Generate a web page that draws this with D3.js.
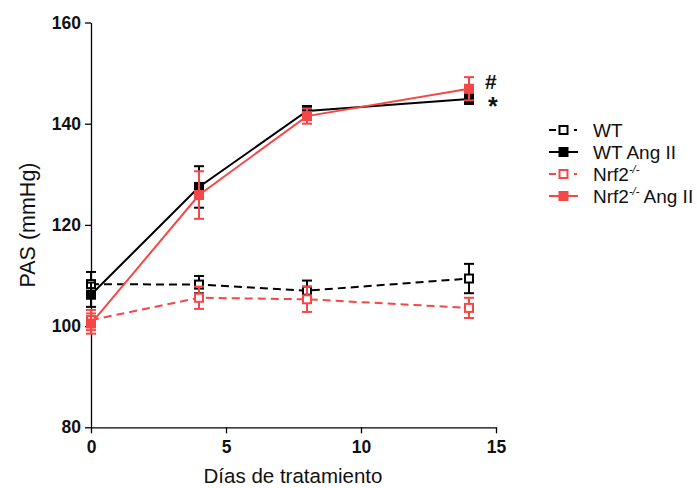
<!DOCTYPE html>
<html>
<head>
<meta charset="utf-8">
<script src="https://cdn.jsdelivr.net/npm/d3@7"></script>
<style>
  html, body { margin: 0; padding: 0; background: #fff; }
  svg { display: block; font-family: "Liberation Sans", Arial, sans-serif; }
</style>
</head>
<body>
<svg id="chart" width="697" height="488"></svg>
<script>
// Days of treatment
const days = [0, 4, 8, 14];

// Mean PAS (mmHg) and SEM for each group
const wtMean       = [108.3, 108.2, 107.0, 109.4];
const wtErr        = [2.4, 1.7, 2.0, 2.9];
const wtAngMean    = [106.2, 127.5, 142.5, 144.9];
const wtAngErr     = [2.4, 4.1, 1.0, 1.0];
const nrfMean      = [101.2, 105.6, 105.3, 103.6];
const nrfErr       = [2.0, 2.2, 2.5, 2.0];
const nrfAngMean   = [100.5, 125.9, 141.5, 146.9];
const nrfAngErr    = [2.0, 4.7, 1.5, 2.3];

const xTicks = [0, 5, 10, 15];
const yTicks = [80, 100, 120, 140, 160];

const groups = [
  { name: "WT",        sup: false, tail: "",       mean: wtMean,     err: wtErr,     color: "#000000", dashed: true,  filled: false },
  { name: "WT Ang II", sup: false, tail: "",       mean: wtAngMean,  err: wtAngErr,  color: "#000000", dashed: false, filled: true },
  { name: "Nrf2",      sup: true,  tail: "",       mean: nrfMean,    err: nrfErr,    color: "#f44747", dashed: true,  filled: false },
  { name: "Nrf2",      sup: true,  tail: " Ang II", mean: nrfAngMean, err: nrfAngErr, color: "#f44747", dashed: false, filled: true }
];

const svg = d3.select("#chart");
const x = d3.scaleLinear().domain([0, 15]).range([91, 496]);
const y = d3.scaleLinear().domain([80, 160]).range([427.3, 22.5]);

// Axes
const yAxis = svg.append("g").attr("transform", "translate(91,0)")
  .call(d3.axisLeft(y).tickValues(yTicks).tickSize(6).tickPadding(4).tickSizeOuter(0));
const xAxis = svg.append("g").attr("transform", "translate(0,427.3)")
  .call(d3.axisBottom(x).tickValues(xTicks).tickSize(6).tickPadding(7).tickSizeOuter(0));
[yAxis, xAxis].forEach(g => {
  g.select(".domain").attr("stroke", "#000").attr("stroke-width", 1.3);
  g.selectAll(".tick line").attr("stroke", "#000").attr("stroke-width", 1.3);
  g.selectAll(".tick text").attr("fill", "#111").attr("font-size", 17.5).attr("font-weight", "bold")
    .attr("font-family", "'Liberation Sans', Arial, sans-serif");
});

// Axis titles
svg.append("text").attr("transform", "translate(35,225) rotate(-90)")
  .attr("text-anchor", "middle").attr("font-size", 21.5).attr("fill", "#111").text("PAS (mmHg)");
svg.append("text").attr("x", 293).attr("y", 483)
  .attr("text-anchor", "middle").attr("font-size", 20.5).attr("fill", "#111").text("Días de tratamiento");

const line = d3.line().x((d, i) => x(days[i])).y(d => y(d));
const sq = 10, cap = 5;

// Draw each series: line, error bars, markers
groups.forEach(g => {
  const layer = svg.append("g");
  layer.append("path").datum(g.mean)
    .attr("d", line).attr("fill", "none")
    .attr("stroke", g.color).attr("stroke-width", 2)
    .attr("stroke-dasharray", g.dashed ? "8,5" : null);

  const pts = g.mean.map((m, i) => ({ x: x(days[i]), m, e: g.err[i] }));
  const eb = layer.selectAll(".eb").data(pts).enter().append("g");
  eb.append("line").attr("x1", d => d.x).attr("x2", d => d.x)
    .attr("y1", d => y(d.m + d.e)).attr("y2", d => y(d.m - d.e))
    .attr("stroke", g.color).attr("stroke-width", 2);
  eb.append("line").attr("x1", d => d.x - cap).attr("x2", d => d.x + cap)
    .attr("y1", d => y(d.m + d.e)).attr("y2", d => y(d.m + d.e))
    .attr("stroke", g.color).attr("stroke-width", 2);
  eb.append("line").attr("x1", d => d.x - cap).attr("x2", d => d.x + cap)
    .attr("y1", d => y(d.m - d.e)).attr("y2", d => y(d.m - d.e))
    .attr("stroke", g.color).attr("stroke-width", 2);

  layer.selectAll(".mk").data(pts).enter().append("rect")
    .attr("x", d => d.x - sq / 2 + (g.filled ? 0 : 1)).attr("y", d => y(d.m) - sq / 2 + (g.filled ? 0 : 1))
    .attr("width", g.filled ? sq : sq - 2).attr("height", g.filled ? sq : sq - 2)
    .attr("fill", g.filled ? g.color : "#fff")
    .attr("stroke", g.color).attr("stroke-width", g.filled ? 0 : 2);
});

// Significance marks at day 14
svg.append("text").attr("x", 485).attr("y", 89).attr("font-size", 21).attr("font-weight", "bold")
  .attr("fill", "#111").text("#");
svg.append("text").attr("x", 488).attr("y", 115).attr("font-size", 25).attr("font-weight", "bold")
  .attr("fill", "#111").text("*");

// Legend
const legendRows = [130, 152, 174, 196];
groups.forEach((g, i) => {
  const ly = legendRows[i];
  const lg = svg.append("g");
  if (g.dashed) {
    lg.append("line").attr("x1", 549).attr("x2", 556).attr("y1", ly).attr("y2", ly)
      .attr("stroke", g.color).attr("stroke-width", 2);
    lg.append("line").attr("x1", 574).attr("x2", 577).attr("y1", ly).attr("y2", ly)
      .attr("stroke", g.color).attr("stroke-width", 2);
  } else {
    lg.append("line").attr("x1", 549).attr("x2", 578).attr("y1", ly).attr("y2", ly)
      .attr("stroke", g.color).attr("stroke-width", 2);
  }
  lg.append("rect")
    .attr("x", 563.5 - sq / 2 + (g.filled ? 0 : 1)).attr("y", ly - sq / 2 + (g.filled ? 0 : 1))
    .attr("width", g.filled ? sq : sq - 2).attr("height", g.filled ? sq : sq - 2)
    .attr("fill", g.filled ? g.color : "#fff")
    .attr("stroke", g.color).attr("stroke-width", g.filled ? 0 : 2);
  const t = lg.append("text").attr("x", 593).attr("y", ly + 7).attr("font-size", 19).attr("fill", "#111");
  t.append("tspan").text(g.name);
  if (g.sup) {
    t.append("tspan").attr("font-size", 11).attr("font-style", "italic").attr("dy", -8).text("-/-");
    if (g.tail) t.append("tspan").attr("dy", 8).text(g.tail);
  } else if (g.tail) {
    t.append("tspan").text(g.tail);
  }
});
</script>
</body>
</html>
